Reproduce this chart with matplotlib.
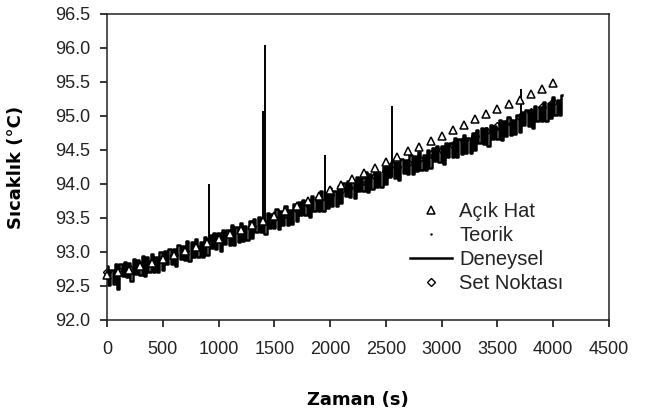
import matplotlib.pyplot as plt

# --- data ---
# Deneysel (measured), sampled every 20 s from 0 to 4080 s
exp_t = list(range(0, 4100, 20))
exp_y = [
    92.79, 92.52, 92.74, 92.53, 92.82,
    92.46, 92.83, 92.64, 92.86, 92.63,
    92.84, 92.58, 92.89, 92.68, 92.88,
    92.66, 92.94, 92.65, 92.92, 92.70,
    92.97, 92.70, 92.92, 92.71, 93.00,
    92.73, 93.02, 92.83, 93.05, 92.82,
    93.05, 92.79, 93.10, 92.89, 93.09,
    92.88, 93.16, 92.87, 93.14, 92.92,
    93.19, 92.92, 93.14, 92.93, 93.22,
    92.96, 93.25, 93.06, 93.28, 93.05,
    93.28, 93.02, 93.33, 93.12, 93.32,
    93.11, 93.39, 93.10, 93.37, 93.15,
    93.43, 93.16, 93.38, 93.17, 93.46,
    93.20, 93.49, 93.30, 93.52, 93.29,
    93.52, 93.26, 93.57, 93.36, 93.56,
    93.35, 93.63, 93.34, 93.61, 93.39,
    93.67, 93.40, 93.62, 93.41, 93.70,
    93.45, 93.74, 93.55, 93.77, 93.54,
    93.77, 93.51, 93.82, 93.61, 93.81,
    93.61, 93.89, 93.60, 93.87, 93.65,
    93.94, 93.67, 93.89, 93.68, 93.97,
    93.72, 94.01, 93.82, 94.04, 93.81,
    94.05, 93.79, 94.10, 93.89, 94.09,
    93.89, 94.17, 93.88, 94.15, 93.93,
    94.22, 93.95, 94.17, 93.96, 94.25,
    94.00, 94.29, 94.10, 94.32, 94.09,
    94.32, 94.06, 94.37, 94.16, 94.36,
    94.15, 94.43, 94.14, 94.41, 94.19,
    94.47, 94.20, 94.42, 94.21, 94.50,
    94.24, 94.53, 94.34, 94.56, 94.33,
    94.56, 94.30, 94.61, 94.40, 94.60,
    94.40, 94.68, 94.39, 94.66, 94.44,
    94.72, 94.45, 94.67, 94.46, 94.75,
    94.50, 94.79, 94.60, 94.82, 94.59,
    94.82, 94.56, 94.87, 94.66, 94.86,
    94.66, 94.94, 94.65, 94.92, 94.70,
    94.99, 94.72, 94.94, 94.73, 95.02,
    94.77, 95.06, 94.87, 95.09, 94.86,
    95.09, 94.83, 95.14, 94.93, 95.13,
    94.93, 95.21, 94.92, 95.19, 94.97,
    95.28, 95.01, 95.23, 95.02, 95.31,
]

# single-sample spikes in the measured signal
spike_t = [915, 1400, 1418, 1958, 2553, 3715]
spike_base = [93.15, 93.40, 93.40, 93.75, 94.10, 94.95]
spike_top = [94.00, 95.07, 96.05, 94.42, 95.15, 95.40]

# markers every 100 s
mark_t = list(range(0, 4100, 100))
acik_hat = [
    92.66, 92.70, 92.74, 92.79, 92.84, 92.89, 92.95, 93.01, 93.07, 93.13,
    93.19, 93.26, 93.32, 93.39, 93.46, 93.53, 93.60, 93.67, 93.75, 93.83,
    93.91, 93.99, 94.08, 94.16, 94.24, 94.32, 94.40, 94.48, 94.55, 94.63,
    94.71, 94.79, 94.87, 94.95, 95.03, 95.11, 95.18, 95.24, 95.32, 95.39,
    95.48,
]
set_noktasi = [
    92.70, 92.73, 92.77, 92.81, 92.86, 92.91, 92.96, 93.02, 93.08, 93.14,
    93.20, 93.26, 93.32, 93.38, 93.44, 93.50, 93.56, 93.63, 93.70, 93.77,
    93.84, 93.91, 93.98, 94.05, 94.12, 94.19, 94.25, 94.31, 94.37, 94.44,
    94.50, 94.57, 94.64, 94.71, 94.78, 94.85, 94.92, 94.99, 95.06, 95.13,
    95.20,
]
teorik = [
    92.68, 92.71, 92.75, 92.79, 92.84, 92.89, 92.94, 93.00, 93.06, 93.12,
    93.18, 93.24, 93.30, 93.36, 93.42, 93.48, 93.54, 93.61, 93.68, 93.75,
    93.82, 93.89, 93.96, 94.03, 94.10, 94.17, 94.23, 94.29, 94.35, 94.42,
    94.48, 94.55, 94.62, 94.69, 94.76, 94.83, 94.90, 94.97, 95.04, 95.11,
    95.18,
]

x_ticks = [0, 500, 1000, 1500, 2000, 2500, 3000, 3500, 4000, 4500]
y_ticks = [92.0, 92.5, 93.0, 93.5, 94.0, 94.5, 95.0, 95.5, 96.0, 96.5]

fig = plt.figure(figsize=(6.45, 4.19), dpi=100)
ax = fig.add_axes([107 / 645, 1 - 320 / 419, 502 / 645, 306 / 419])

tick_font = 'Liberation Sans'

# set point and theory sit mostly under the measured band
ax.plot(mark_t, set_noktasi, linestyle='none', marker='D', markersize=4,
        markerfacecolor='white', markeredgecolor='black', markeredgewidth=1,
        label='Set Noktası', zorder=1, clip_on=False)
ax.plot(mark_t, teorik, linestyle='none', marker='.', markersize=1.5,
        color='black', label='Teorik', zorder=1)

ax.plot(exp_t, exp_y, color='black', linewidth=1.8, drawstyle='steps-mid',
        label='Deneysel', zorder=2)
ax.vlines(spike_t, spike_base, spike_top, color='black', linewidth=1.4, zorder=2)

ax.plot(mark_t, acik_hat, linestyle='none', marker='^', markersize=5.5,
        markerfacecolor='white', markeredgecolor='black', markeredgewidth=1.1,
        label='Açık Hat', zorder=4, clip_on=False)

ax.set_xlim(0, 4500)
ax.set_ylim(92.0, 96.5)
ax.set_xticks(x_ticks)
ax.set_yticks(y_ticks)
ax.set_yticklabels(['%.1f' % v for v in y_ticks])

for lab in ax.get_xticklabels() + ax.get_yticklabels():
    lab.set_fontfamily(tick_font)
    lab.set_fontsize(13)
    lab.set_color('#222222')

ax.tick_params(axis='y', direction='out', length=5, width=1.1, pad=7)
ax.tick_params(axis='x', direction='out', length=5, width=1.1, pad=10)
for sp in ax.spines.values():
    sp.set_linewidth(1.1)
    sp.set_color('#222222')

ax.set_xlabel('Zaman (s)', fontsize=13, fontweight='bold',
              fontfamily='DejaVu Sans', labelpad=24)
ax.set_ylabel('Sıcaklık (°C)', fontsize=13, fontweight='bold',
              fontfamily='DejaVu Sans')
ax.yaxis.set_label_coords(-0.163, 0.5)

handles, labels = ax.get_legend_handles_labels()
order = ['Açık Hat', 'Teorik', 'Deneysel', 'Set Noktası']
hmap = dict(zip(labels, handles))
ax.legend([hmap[k] for k in order], order, loc='upper left',
          bbox_to_anchor=((410 - 107) / 502, 1 - (202 - 14) / 306),
          bbox_transform=ax.transAxes, frameon=False, borderpad=0,
          borderaxespad=0, handlelength=2.1, handletextpad=0.35,
          labelspacing=0.25, prop={'family': tick_font, 'size': 14.5},
          labelcolor='#222222')

fig.savefig('out.png', dpi=100)
